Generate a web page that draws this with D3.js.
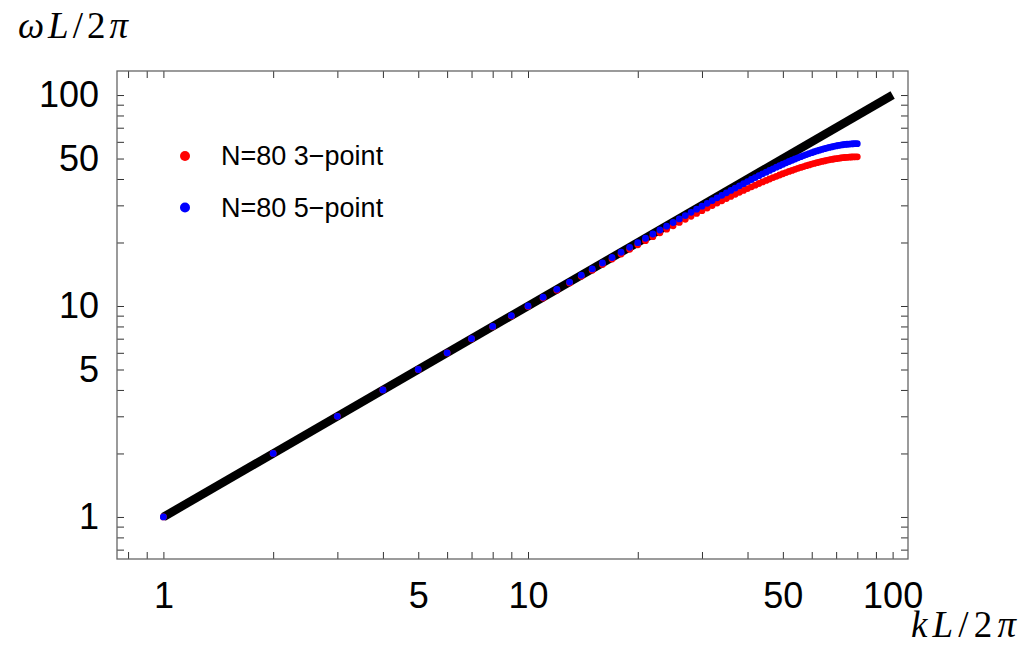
<!DOCTYPE html>
<html>
<head>
<meta charset="utf-8">
<script src="https://cdn.jsdelivr.net/npm/d3@7"></script>
<style>
  html, body { margin: 0; padding: 0; background: #fff; }
  svg { display: block; }
</style>
</head>
<body>
<div id="chart"></div>
<script>
// Data
const modes = [
  1, 2, 3, 4, 5, 6, 7, 8, 9, 10,
  11, 12, 13, 14, 15, 16, 17, 18, 19, 20,
  21, 22, 23, 24, 25, 26, 27, 28, 29, 30,
  31, 32, 33, 34, 35, 36, 37, 38, 39, 40,
  41, 42, 43, 44, 45, 46, 47, 48, 49, 50,
  51, 52, 53, 54, 55, 56, 57, 58, 59, 60,
  61, 62, 63, 64, 65, 66, 67, 68, 69, 70,
  71, 72, 73, 74, 75, 76, 77, 78, 79, 80
];

const threePoint = [
  1.00, 2.00, 3.00, 4.00, 4.99, 5.99, 6.98, 7.97, 8.95, 9.94,
  10.91, 11.89, 12.86, 13.82, 14.78, 15.74, 16.69, 17.63, 18.56, 19.49,
  20.41, 21.32, 22.23, 23.12, 24.01, 24.89, 25.75, 26.61, 27.46, 28.30,
  29.12, 29.94, 30.74, 31.53, 32.31, 33.08, 33.83, 34.57, 35.30, 36.01,
  36.71, 37.40, 38.07, 38.73, 39.37, 40.00, 40.61, 41.20, 41.78, 42.35,
  42.89, 43.42, 43.94, 44.44, 44.92, 45.38, 45.82, 46.25, 46.66, 47.05,
  47.43, 47.78, 48.12, 48.44, 48.74, 49.02, 49.28, 49.52, 49.75, 49.95,
  50.14, 50.30, 50.45, 50.58, 50.68, 50.77, 50.84, 50.89, 50.92, 50.93
];

const fivePoint = [
  1.00, 2.00, 3.00, 4.00, 5.00, 6.00, 7.00, 8.00, 9.00, 10.00,
  11.00, 12.00, 12.99, 13.99, 14.99, 15.99, 16.98, 17.98, 18.97, 19.96,
  20.95, 21.94, 22.92, 23.90, 24.88, 25.86, 26.83, 27.80, 28.76, 29.72,
  30.67, 31.61, 32.55, 33.48, 34.41, 35.32, 36.23, 37.13, 38.02, 38.90,
  39.77, 40.62, 41.47, 42.30, 43.11, 43.92, 44.70, 45.48, 46.23, 46.97,
  47.70, 48.40, 49.09, 49.75, 50.40, 51.03, 51.64, 52.22, 52.79, 53.33,
  53.85, 54.34, 54.81, 55.26, 55.68, 56.08, 56.45, 56.79, 57.11, 57.40,
  57.67, 57.91, 58.12, 58.30, 58.45, 58.58, 58.68, 58.75, 58.79, 58.81
];

// continuum reference line omega = k
const lineK = [1, 100];
const lineW = [1, 100];

const seriesNames  = ['N=80 3\u2212point', 'N=80 5\u2212point'];
const seriesColors = ['#ff0000', '#0000ff'];

const xLabelTicks = [1, 5, 10, 50, 100];
const xAllTicks   = [0.8, 0.9, 1, 2, 3, 4, 5, 6, 7, 8, 9, 10,
                     20, 30, 40, 50, 60, 70, 80, 90, 100];
const yLabelTicks = [1, 5, 10, 50, 100];
const yAllTicks   = [0.7, 0.8, 0.9, 1, 2, 3, 4, 5, 6, 7, 8, 9, 10,
                     20, 30, 40, 50, 60, 70, 80, 90, 100];

// Configuration
const width    = 1025;
const height   = 651;
const plotL    = 117;
const plotR    = 908;
const plotT    = 71;
const plotB    = 559;
const tickLen  = 7;
const font     = 'Liberation Sans, Arial, Helvetica, sans-serif';
const mathFont = 'Liberation Serif, Times New Roman, serif';

const svg = d3.select('#chart')
  .append('svg')
    .attr('width', width)
    .attr('height', height);

svg.append('rect')
  .attr('width', width)
  .attr('height', height)
  .attr('fill', '#fff');

const x = d3.scaleLog().domain([0.746, 110.2]).range([plotL, plotR]);
const y = d3.scaleLog().domain([0.632, 130]).range([plotB, plotT]);

const fmt = labels => d => labels.includes(d) ? String(d) : '';

// Axes: ticks point inward on all four sides
function styleAxis(g) {
  g.select('.domain').remove();
  g.selectAll('.tick line').attr('stroke', '#333').attr('stroke-width', 1);
  g.selectAll('.tick text')
    .attr('font-family', font)
    .attr('font-size', 36)
    .attr('fill', '#000');
}

svg.append('g')
  .attr('transform', `translate(0,${plotB})`)
  .call(d3.axisBottom(x).tickValues(xAllTicks).tickFormat(fmt(xLabelTicks))
    .tickSizeInner(-tickLen).tickSizeOuter(0).tickPadding(23))
  .call(styleAxis);

svg.append('g')
  .attr('transform', `translate(0,${plotT})`)
  .call(d3.axisTop(x).tickValues(xAllTicks).tickFormat('')
    .tickSizeInner(-tickLen).tickSizeOuter(0))
  .call(styleAxis);

svg.append('g')
  .attr('transform', `translate(${plotL},0)`)
  .call(d3.axisLeft(y).tickValues(yAllTicks).tickFormat(fmt(yLabelTicks))
    .tickSizeInner(-tickLen).tickSizeOuter(0).tickPadding(18))
  .call(styleAxis);

svg.append('g')
  .attr('transform', `translate(${plotR},0)`)
  .call(d3.axisRight(y).tickValues(yAllTicks).tickFormat('')
    .tickSizeInner(-tickLen).tickSizeOuter(0))
  .call(styleAxis);

// Frame
svg.append('rect')
  .attr('x', plotL)
  .attr('y', plotT)
  .attr('width', plotR - plotL)
  .attr('height', plotB - plotT)
  .attr('fill', 'none')
  .attr('stroke', '#666')
  .attr('stroke-width', 1.3);

// Reference line (drawn under the points)
svg.append('path')
  .datum(d3.zip(lineK, lineW))
  .attr('d', d3.line().x(d => x(d[0])).y(d => y(d[1])))
  .attr('fill', 'none')
  .attr('stroke', '#000')
  .attr('stroke-width', 8.5);

// Points: 3-point first, then 5-point on top
[threePoint, fivePoint].forEach((vals, i) => {
  svg.append('g')
    .selectAll('circle')
    .data(d3.zip(modes, vals))
    .join('circle')
      .attr('cx', d => x(d[0]))
      .attr('cy', d => y(d[1]))
      .attr('r', 3.4)
      .attr('fill', seriesColors[i]);
});

// Legend
const legend = svg.append('g');
seriesNames.forEach((name, i) => {
  const yy = 156 + i * 51.5;
  legend.append('circle')
    .attr('cx', 185)
    .attr('cy', yy)
    .attr('r', 5)
    .attr('fill', seriesColors[i]);
  legend.append('text')
    .attr('x', 221)
    .attr('y', yy + 9)
    .attr('font-family', font)
    .attr('font-size', 27)
    .attr('fill', '#000')
    .text(name);
});

// Axis labels (math style, wide like TeX)
function mathLabel(xPos, yPos, first, w) {
  const t = svg.append('text')
    .attr('x', xPos)
    .attr('y', yPos)
    .attr('font-family', mathFont)
    .attr('font-size', 37)
    .attr('fill', '#000')
    .attr('textLength', w)
    .attr('lengthAdjust', 'spacing');
  t.append('tspan').attr('font-style', 'italic').text(first + 'L');
  t.append('tspan').text('/2');
  t.append('tspan').attr('font-style', 'italic').text('\u03c0');
}

mathLabel(18, 38, '\u03c9', 110);
mathLabel(911, 637, 'k', 105);
</script>
</body>
</html>
